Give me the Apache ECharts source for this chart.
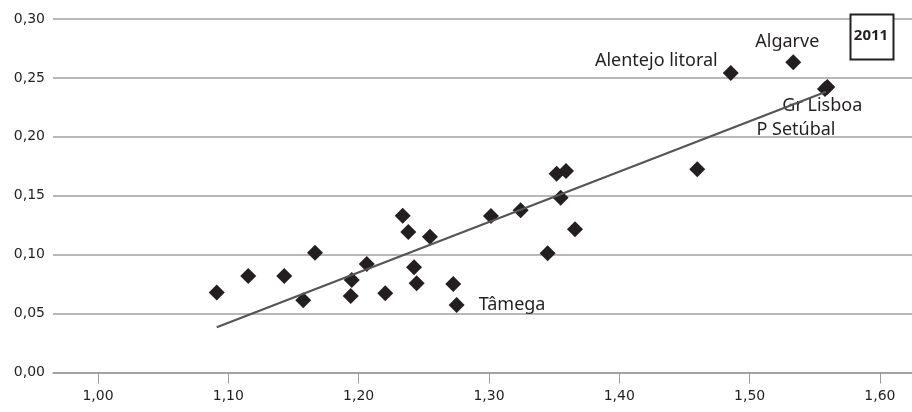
<!DOCTYPE html>
<html>
<head>
<meta charset="utf-8">
<script src="https://cdn.jsdelivr.net/npm/echarts@6/dist/echarts.min.js"></script>
<style>html,body{margin:0;padding:0;background:#fff}#c{width:912px;height:412px}</style>
</head>
<body>
<div id="c"></div>
<script>
// Data
const xValues = [1.0911,1.1153,1.1429,1.1665,1.1575,1.1939,1.1947,1.2062,1.2204,1.2338,1.2381,1.2425,1.2445,1.2547,1.2726,1.2752,1.3015,1.3243,1.3450,1.3519,1.3591,1.3550,1.3660,1.4598,1.4855,1.5335,1.5596,1.5578];
const yValues = [0.0678,0.0819,0.0819,0.1017,0.0613,0.0650,0.0785,0.0921,0.0673,0.1331,0.1193,0.0893,0.0757,0.1153,0.0751,0.0573,0.1329,0.1378,0.1012,0.1686,0.1711,0.1482,0.1216,0.1725,0.2541,0.2634,0.2422,0.2407];
const pointNames = ['','','','','','','','','','','','','','','','Tâmega','','','','','','','','','Alentejo litoral','Algarve','Gr Lisboa','P Setúbal'];
const trendX = [1.0911, 1.5586];
const trendY = [0.0384, 0.2382];
const xTicks = [1.0,1.1,1.2,1.3,1.4,1.5,1.6];
const yearLabel = '2011';

const labelPlacement = {
  'Tâmega': {position:'right', offset:[9,0]},
  'Alentejo litoral': {position:'left', offset:[0,-12]},
  'Algarve': {position:'top', offset:[-6,2]},
  'Gr Lisboa': {position:'bottom', offset:[-5,-3]},
  'P Setúbal': {position:'bottom', offset:[-29,19]}
};

const fmt = v => v.toFixed(2).replace('.', ',');
const textColor = '#231f20';
const labelFont = 'Noto Sans';
const axisFont = 'DejaVu Sans';

const scatterData = xValues.map((x, i) => {
  const item = {value:[x, yValues[i]], name: pointNames[i]};
  const p = labelPlacement[pointNames[i]];
  if (p) {
    item.label = {show:true, formatter:'{b}', position:p.position, offset:p.offset,
      color:textColor, fontSize:18, fontFamily:labelFont, distance:5};
  }
  return item;
});

const chart = echarts.init(document.getElementById('c'), null, {renderer:'canvas'});
chart.setOption({
  animation:false,
  backgroundColor:'#ffffff',
  textStyle:{fontFamily:axisFont, color:textColor},
  grid:{left:53, right:0, top:19, bottom:39.5, containLabel:false, outerBoundsMode:'none'},
  xAxis:{
    type:'value', min:0.96547, max:1.6246,
    axisLine:{show:true, lineStyle:{color:'#9a9a9a', width:1.5}},
    axisTick:{show:true, customValues:xTicks, length:11, lineStyle:{color:'#9a9a9a', width:1}},
    axisLabel:{customValues:xTicks, formatter:fmt, margin:17, color:textColor, fontSize:14, fontFamily:axisFont},
    splitLine:{show:false}
  },
  yAxis:{
    type:'value', min:0, max:0.3, interval:0.05,
    axisLine:{show:false}, axisTick:{show:false},
    axisLabel:{formatter: fmt, margin:8, color:textColor, fontSize:14, fontFamily:axisFont},
    splitLine:{show:true, lineStyle:{color:'#a0a0a0', width:1.5}}
  },
  series:[
    {
      type:'line', data:trendX.map((x,i)=>[x, trendY[i]]),
      showSymbol:false, symbol:'none',
      lineStyle:{color:'#555555', width:2.2}, z:3
    },
    {
      type:'scatter', data:scatterData, symbol:'diamond', symbolSize:16,
      itemStyle:{color:'#231f20', opacity:1}, z:2
    }
  ],
  graphic:[
    {type:'rect', left:849.5, top:13.5, shape:{x:0,y:0,width:43,height:45}, style:{fill:'#fff', stroke:'#231f20', lineWidth:2}, z:10},
    {type:'text', x:871, y:36, style:{text:yearLabel, fill:textColor, font:'bold 15px "Noto Sans"', textAlign:'center', textVerticalAlign:'middle'}, z:11}
  ]
});
</script>
</body>
</html>
